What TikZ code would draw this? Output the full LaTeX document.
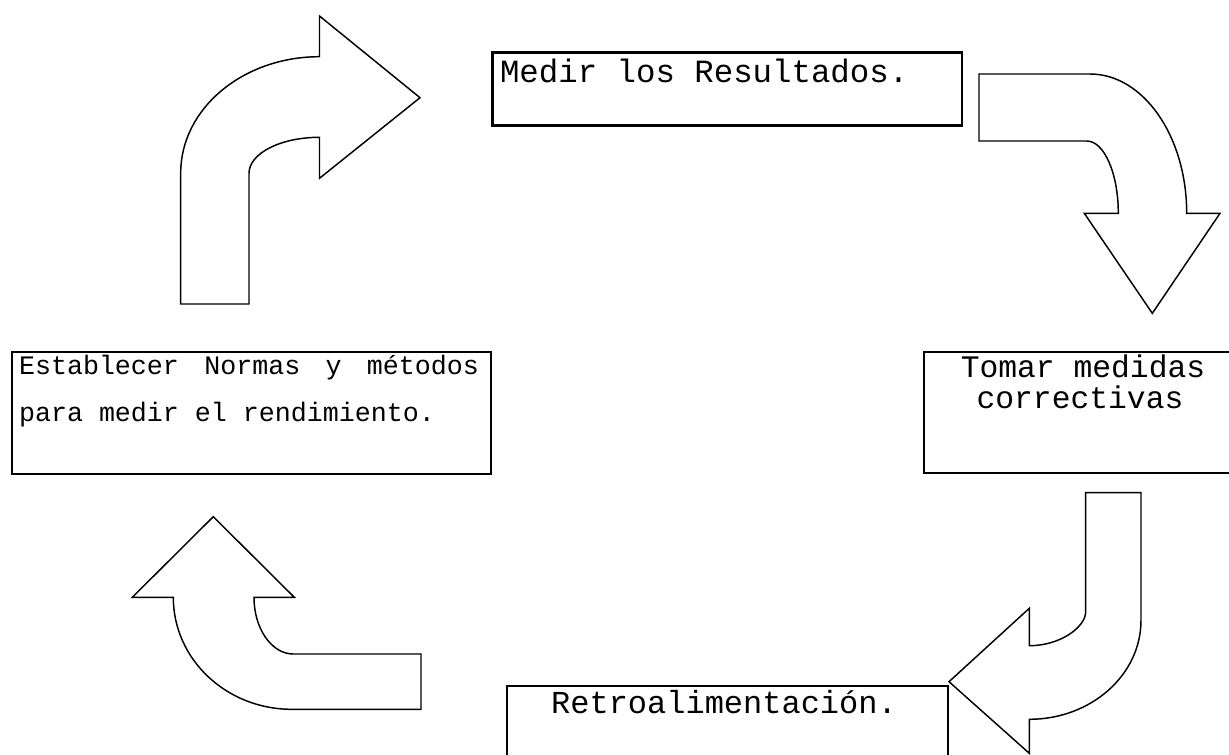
\documentclass[tikz,border=0pt]{standalone}
\usepackage{fontspec}
\newfontfamily\cour{Liberation Mono}
\begin{document}
\begin{tikzpicture}[x=0.75pt,y=-0.75pt,
  box/.style={draw=black,line width=1.7pt,fill=white,inner sep=0pt,outer sep=0pt,anchor=north west},
  blockarrow/.style={draw=black,line width=1.1pt,fill=white,line join=miter},
  lbl/.style={inner sep=0pt,outer sep=0pt}]
\useasboundingbox (0,0) rectangle (1229,754);

% ---- boxes ----
\node[box,minimum width=351.9pt,minimum height=54.75pt] (medir) at (492.5,52.5) {};
\node[box,minimum width=359.5pt,minimum height=91.7pt] (normas) at (11.7,351.7) {};
\node[box,minimum width=240pt,minimum height=90.75pt] (tomar) at (924,352) {};
\node[box,minimum width=330.75pt,minimum height=63pt] (retro) at (507,686) {};

% ---- texts ----
\node[lbl,anchor=base west,font=\fontsize{24.3pt}{28pt}\cour] (tmedir) at (500,82) {Medir los Resultados.};
\node[lbl,anchor=base west,font=\fontsize{20pt}{24pt}\cour] (tnormasA) at (19,374)
  {\makebox[345pt][s]{Establecer\hfill Normas\hfill y\hfill métodos}};
\node[lbl,anchor=base west,font=\fontsize{20pt}{24pt}\cour] (tnormasB) at (19,421.5) {para medir el rendimiento.};
\node[lbl,anchor=base,font=\fontsize{23.5pt}{28pt}\cour] (ttomarA) at (1083,377) {Tomar medidas};
\node[lbl,anchor=base,font=\fontsize{23.5pt}{28pt}\cour] (ttomarB) at (1080,408.5) {correctivas};
\node[lbl,anchor=base,font=\fontsize{24pt}{28pt}\cour] (tretro) at (724,713.3) {Retroalimentación.};

% ---- bent block arrows ----
% up, then right
\draw[blockarrow] (180.7,304) -- (180.7,173)
  .. controls (180.7,108.8) and (242.8,56.7) .. (319.5,56.7)
  -- (319.5,16) -- (420,97.7) -- (319.5,178.3) -- (319.5,137.3)
  .. controls (280.6,137.3) and (249,153.4) .. (249,173.3)
  -- (249,304) -- cycle;
% right, then down
\draw[blockarrow] (979,74) -- (1090,74)
  .. controls (1143.4,74) and (1186.7,136.4) .. (1186.7,213.3)
  -- (1220,213.3) -- (1152.3,313.3) -- (1084.3,213.3) -- (1118.3,213.3)
  .. controls (1118.3,173.4) and (1104.2,141) .. (1086.7,141)
  -- (979,141) -- cycle;
% down, then left
\draw[blockarrow] (1085.7,492.7) -- (1141,492.7) -- (1141,620.3)
  .. controls (1141,675) and (1091,719.3) .. (1029.3,719.3)
  -- (1029.3,753.3) -- (949,681.7) -- (1029.3,608.3) -- (1029.3,645.7)
  .. controls (1060.4,645.7) and (1085.7,626.9) .. (1085.7,611.7)
  -- cycle;
% left, then up
\draw[blockarrow] (421,654) -- (421,709.3) -- (291.7,709.3)
  .. controls (226.3,709.3) and (173.3,659.2) .. (173.3,597.3)
  -- (132.3,597.3) -- (213.3,516.7) -- (294.3,597.3) -- (254,597.3)
  .. controls (254,628.6) and (271.6,654) .. (293.3,654)
  -- cycle;
\end{tikzpicture}
\end{document}
